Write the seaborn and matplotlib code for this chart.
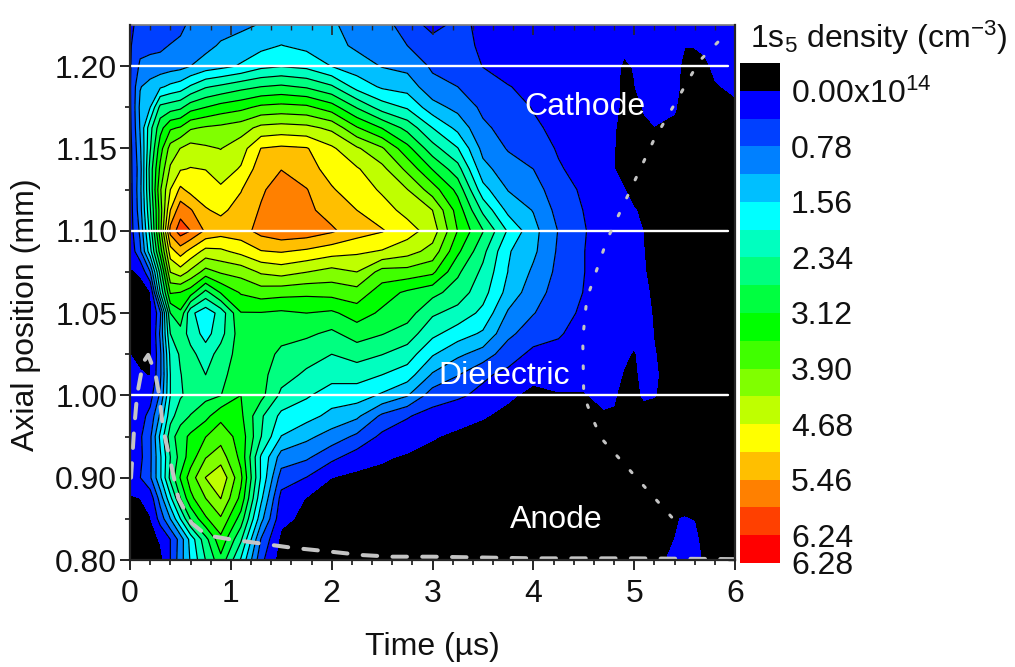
import numpy as np
import matplotlib
matplotlib.use("Agg")
import matplotlib.pyplot as plt
import seaborn as sns

# ---- data -----------------------------------------------------------------
time_us = [0, .1, .2, .3, .4, .5, .6, .75, .9, 1.1, 1.3, 1.5, 1.75, 2.0, 2.25, 2.5, 2.75, 3.0,
           3.25, 3.5, 3.75, 4.0, 4.25, 4.5, 4.7, 4.8, 4.9, 5.0, 5.1, 5.2, 5.4, 5.5, 5.6, 5.7, 5.8, 6.0]
axial_mm = [1.225, 1.2125, 1.20, 1.1875, 1.175, 1.1625, 1.15, 1.1375, 1.125, 1.1125, 1.10, 1.0875,
            1.075, 1.0625, 1.05, 1.0375, 1.025, 1.0125, 1.00, .975, .95, .925, .90, .875, .85, .825, .80]
# density (10^14 cm^-3), one list per time, top to bottom; negative = below the lowest level (black)
density_by_time = [
 [.35,.35,.35,.35,.33, .3,.25,.25,.22,.2, .2,.1,-.03,-.15,-.2, -.15,.0,.1,.2,.2, .25,.15,.15,-.03,-.15, -.2,-.2],
 [.45,.65,.85,1.15,1.25, 1.2,1.1,1.0,1.05,1.0, .85,.7,.03,-.1,-.15, -.15,-.08,.03,.15,.25, .33,.3,.38,.0,-.15, -.2,-.2],
 [.5,.65,.95,1.3,1.56, 2.2,2.3,2.5,2.45,2.3, 2.1,1.8,.78,-.05,-.15, -.15,-.12,-.02,.25,.5, .7,.7,.72,.15,-.03, -.2,-.2],
 [.5,.7,.95,1.5,2.45, 2.98,3.35,3.6,3.85,3.7, 3.75,3.3,2.5,1.95,.7, .85,.7,.7,.85,1.25, 1.65,1.5,1.5,.95,.55, .05,-.15],
 [.55,.8,1.0,1.65,2.55, 3.45,4.05,4.35,4.68,5.07, 5.6,4.9,4.3,3.55,2.73, 2.34,2.05,1.95,1.95,2.2, 2.55,2.34,2.45,1.85,1.17, .39,.39],
 [.7,.85,1.05,1.75,2.65, 3.55,4.3,4.65,5.15,5.7, 6.05,5.25,4.5,3.5,3.05, 2.55,2.4,2.32,2.3,2.55, 2.95,2.9,3.15,2.73,1.95, .95,1.0],
 [.85,.92,1.17,2.0,2.95, 3.85,4.45,4.7,4.95,5.5, 5.85,4.95,4.2,3.3,2.05, 2.2,2.45,2.55,2.45,2.75, 3.2,3.3,3.7,3.4,2.75, 1.7,1.6],
 [.92,1.05,1.35,2.3,3.12, 3.95,4.35,4.67,4.9,5.1, 5.4,4.55,3.75,2.6,1.7, 1.8,2.15,2.34,2.62,3.0, 3.5,3.88,4.3,3.9,3.45, 2.6,2.35],
 [1.0,1.22,1.45,2.42,3.28, 4.0,4.28,4.48,4.75,5.0, 5.25,4.6,3.95,3.15,2.1, 2.2,2.5,2.6,2.72,3.4, 3.75,4.1,4.6,4.3,3.85, 3.4,3.0],
 [1.08,1.35,1.6,2.6,3.4, 4.12,4.5,4.72,5.05,5.2, 5.3,4.8,4.05,3.55,3.1, 2.95,2.9,3.0,3.12,3.2, 3.35,3.4,3.6,3.4,2.95, 2.4,1.9],
 [1.2,1.45,1.85,2.73,3.6, 4.4,5.08,5.3,5.4,5.5, 5.6,5.05,4.35,3.7,3.1, 2.95,2.9,2.85,2.85,2.4, 2.35,1.9,1.9,1.65,1.3, .75,.5],
 [1.3,1.57,1.93,2.8,3.65, 4.45,5.15,5.45,5.65,5.78, 5.75,5.1,4.45,3.65,3.05, 2.85,2.65,2.5,2.25,1.85, 1.55,1.0,.6,.25,.1, -.1,-.2],
 [1.2,1.45,1.85,2.68,3.6, 4.4,5.1,5.2,5.48,5.55, 5.7,5.0,4.3,3.6,3.12, 2.8,2.5,2.27,2.0,1.7, 1.27,.85,.38,-.02,-.1, -.2,-.2],
 [1.25,1.3,1.55,2.4,3.3, 4.2,4.75,4.95,5.1,5.3, 5.52,4.85,4.15,3.65,3.05, 2.65,2.34,2.1,1.75,1.45, 1.0,.5,.0,-.12,-.15, -.2,-.2],
 [.95,1.1,1.35,1.8,2.7, 3.55,4.35,4.72,4.9,5.07, 5.25,4.75,4.29,3.75,3.3, 2.9,2.5,2.1,1.75,1.25, .7,.2,-.1,-.15,-.2, -.2,-.2],
 [.85,.9,1.15,1.5,2.15, 3.1,3.95,4.4,4.62,4.85, 5.1,4.65,3.75,3.3,3.05, 2.75,2.35,1.95,1.5,.7, .3,.05,-.12,-.15,-.2, -.2,-.2],
 [.7,.78,1.05,1.4,1.9, 2.6,3.25,3.8,4.3,4.55, 4.85,4.45,3.75,3.05,2.9, 2.55,2.15,1.75,1.2,.42, .2,-.05,-.15,-.2,-.2, -.2,-.2],
 [.2,.65,.72,.9,1.33, 1.95,2.5,3.1,3.7,4.29, 4.5,4.15,3.6,2.85,2.4, 2.05,1.6,1.12,.58,.25, .03,-.12,-.2,-.2,-.2, -.2,-.2],
 [.55,.58,.63,.78,1.05, 1.45,1.97,2.5,3.0,3.35, 3.5,3.2,2.8,2.55,2.2, 1.75,1.25,.8,.45,.15, -.08,-.15,-.2,-.2,-.2, -.2,-.2],
 [.25,.3,.38,.55,.7, .85,1.05,1.3,1.7,2.25, 2.75,2.45,2.25,2.1,1.85, 1.5,1.0,.45,.3,.03, -.15,-.2,-.2,-.2,-.2, -.2,-.2],
 [.22,.25,.3,.4,.55, .65,.75,.95,1.15,1.45, 1.9,1.6,1.55,1.42,1.12, .88,.55,.3,.06,-.1, -.2,-.2,-.2,-.2,-.2, -.2,-.2],
 [.25,.25,.3,.33,.37, .45,.6,.78,.95,1.15, 1.3,1.25,1.1,.95,.8, .55,.3,.1,-.1,-.15, -.2,-.2,-.2,-.2,-.2, -.2,-.2],
 [.2,.2,.22,.25,.27, .3,.35,.43,.55,.65, .76,.72,.68,.62,.52, .42,.3,.1,-.02,-.1, -.2,-.2,-.2,-.2,-.2, -.2,-.2],
 [.2,.2,.2,.2,.2, .2,.2,.25,.33,.38, .42,.4,.4,.38,.33, .27,.22,.12,-.03,-.12, -.2,-.2,-.2,-.2,-.2, -.2,-.2],
 [.2,.2,.2,.2,.2, .2,.2,.2,.2,.2, .2,.2,.2,.2,.2, .2,.2,.2,.1,-.05, -.2,-.2,-.2,-.2,-.2, -.2,-.2],
 [.2,.2,.2,.2,.2, .05,.02,.02,.15,.2, .2,.2,.2,.2,.2, .2,.2,.2,.05,-.05, -.2,-.2,-.2,-.2,-.2, -.2,-.2],
 [.2,.15,-.1,-.2,-.2, -.2,-.2,-.2,.02,.2, .2,.2,.2,.2,.2, .2,.1,-.05,-.15,-.2, -.2,-.2,-.2,-.2,-.2, -.2,-.2],
 [.2,.12,.03,-.02,-.2, -.2,-.2,-.2,-.2,.03, .15,.2,.2,.2,.2, .15,-.05,-.1,-.1,-.2, -.2,-.2,-.2,-.2,-.2, -.2,-.2],
 [.2,.2,.2,.2,.05, -.1,-.2,-.2,-.2,-.1, -.02,.0,.03,.1,.15, .2,.2,.15,.05,-.15, -.2,-.2,-.2,-.2,-.2, -.2,-.2],
 [.2,.2,.2,.2,.2, -.02,-.2,-.2,-.2,-.2, -.2,-.2,-.15,-.1,-.05, -.02,.02,.05,.02,-.2, -.2,-.2,-.2,-.2,-.2, -.2,-.2],
 [.2,.2,.2,.2,.05, -.1,-.2,-.2,-.2,-.2, -.2,-.2,-.2,-.2,-.2, -.2,-.2,-.2,-.2,-.2, -.2,-.2,-.2,-.2,-.02, .0,.15],
 [.2,.02,-.15,-.2,-.2, -.2,-.2,-.2,-.2,-.2, -.2,-.2,-.2,-.2,-.2, -.2,-.2,-.2,-.2,-.2, -.2,-.2,-.2,-.2,.02, .2,.2],
 [.2,.02,-.15,-.2,-.2, -.2,-.2,-.2,-.2,-.2, -.2,-.2,-.2,-.2,-.2, -.2,-.2,-.2,-.2,-.2, -.2,-.2,-.2,-.2,-.02, .12,.2],
 [.2,.1,-.1,-.2,-.2, -.2,-.2,-.2,-.2,-.2, -.2,-.2,-.2,-.2,-.2, -.2,-.2,-.2,-.2,-.2, -.2,-.2,-.2,-.2,-.2, -.2,-.1],
 [.2,.2,.1,-.05,-.2, -.2,-.2,-.2,-.2,-.2, -.2,-.2,-.2,-.2,-.2, -.2,-.2,-.2,-.2,-.2, -.2,-.2,-.2,-.2,-.2, -.2,-.2],
 [.2,.2,.2,.1,-.1, -.2,-.2,-.2,-.2,-.2, -.2,-.2,-.2,-.2,-.2, -.2,-.2,-.2,-.2,-.2, -.2,-.2,-.2,-.2,-.2, -.2,-.2],
]
anode_time = [.01, .04, .07, .13, .18, .25, .29, .33, .40, .48, .61, .76, 1.0, 1.3, 1.6, 2.0, 2.3, 2.6, 3.0, 4.0, 5.0, 6.0]
anode_pos = [.90, .958, 1.0, 1.02, 1.0246, 1.0137, 1.0, .958, .92, .875, .845, .83, .825, .82, .815, .81, .806, .804, .804, .802, .802, .801]
cathode_time = [5.83, 5.645, 5.19, 4.73, 4.53, 4.49, 4.50, 4.59, 4.68, 5.38]
cathode_pos = [1.2146, 1.203, 1.1545, 1.0944, 1.0586, 1.0343, 1.0, .971, .947, .851]
electrode_marks = [1.20, 1.10, 1.00]
electrode_names = ["Cathode", "Dielectric", "Anode"]
levels = [-1, 0, .39, .78, 1.17, 1.56, 1.95, 2.34, 2.73, 3.12, 3.51, 3.90, 4.29, 4.68, 5.07, 5.46, 5.85, 6.24, 6.28]
band_colors = ["#000000", "#0000ff", "#0040ff", "#0080ff", "#00bfff", "#00ffff", "#00ffbf", "#00ff80", "#00ff40",
               "#00ff00", "#40ff00", "#80ff00", "#bfff00", "#ffff00", "#ffbf00", "#ff8000", "#ff4000", "#ff0000"]
y_ticks = [.80, .90, 1.00, 1.05, 1.10, 1.15, 1.20]
y_minor_ticks = [.85, .95, 1.025, 1.075, 1.125, 1.175]
cbar_ticks = [0, .78, 1.56, 2.34, 3.12, 3.90, 4.68, 5.46, 6.24, 6.28]
cbar_labels = ["0.00x10$^{14}$", "0.78", "1.56", "2.34", "3.12", "3.90", "4.68", "5.46", "6.24", "6.28"]

# ---- style ---------------------------------------------------------------------
sns.set_theme(style="ticks")
FONT = "Liberation Sans"
plt.rcParams["font.family"] = [FONT, "DejaVu Sans"]
plt.rcParams["mathtext.fontset"] = "custom"
plt.rcParams["mathtext.rm"] = FONT
plt.rcParams["mathtext.it"] = FONT
plt.rcParams["mathtext.default"] = "regular"
TXT = 23
INK = "#111111"

W, H = 1015, 667
fig = plt.figure(figsize=(W / 100, H / 100), dpi=100, facecolor="white")
ax = fig.add_axes([130 / W, 1 - 560 / H, 605 / W, 535 / H])
cax = fig.add_axes([740 / W, 1 - 563 / H, 40 / W, 500 / H])

xp, fp = [.80, 1.00, 1.225], [0, 2, 6.5]
ax.set_yscale("function", functions=(lambda v: np.interp(v, xp, fp), lambda u: np.interp(u, fp, xp)))

grid = np.array(density_by_time).T
cf = ax.contourf(time_us, axial_mm, grid, levels=levels, colors=band_colors)
ax.contour(time_us, axial_mm, grid, levels=levels[2:-1], colors="black", linewidths=0.85)

for mark in electrode_marks:
    sns.lineplot(x=[0, 5.93], y=[mark, mark], color="white", lw=1.7, ax=ax, zorder=4)
sns.lineplot(x=anode_time, y=anode_pos, sort=False, estimator=None, color="#c4c4c4", lw=2.9,
             linestyle=(0, (3.6, 3.8)), dash_capstyle="round", ax=ax, zorder=5)
sns.lineplot(x=cathode_time, y=cathode_pos, sort=False, estimator=None, color="#c4c4c4", lw=2.2,
             linestyle=(0, (.9, 5.6)), dash_capstyle="round", ax=ax, zorder=5)

name_xy = [(4.51, 1.175), (3.71, 1.0115), (4.23, .848)]
for name, (tx, ty) in zip(electrode_names, name_xy):
    ax.text(tx, ty, name, color="white", fontsize=23, ha="center", va="center", zorder=6)

ax.set_xlim(0, 6)
ax.set_ylim(.80, 1.225)
ax.set_xticks(range(7))
ax.set_xticks(np.arange(0, 6.01, .2), minor=True)
ax.set_yticks(y_ticks)
ax.set_yticks(y_minor_ticks, minor=True)
ax.set_yticklabels([f"{v:.2f}" for v in y_ticks])
ax.tick_params(axis="both", which="major", labelsize=TXT, length=7.2, width=1.2, color="black", labelcolor=INK, pad=2)
ax.tick_params(axis="x", which="major", pad=6.5)
ax.tick_params(axis="both", which="minor", length=3.6, width=1.1, color="black")
top = ax.secondary_xaxis("top")
top.set_xticks(range(7))
top.set_xticks(np.arange(0, 6.01, .2), minor=True)
top.tick_params(axis="x", which="major", direction="in", length=7.2, width=1.2, labeltop=False)
top.tick_params(axis="x", which="minor", direction="in", length=3.6, width=1.0)
top.spines["top"].set_color("#808080")
top.set_zorder(7)
right = ax.secondary_yaxis("right")
right.set_yticks(y_ticks)
right.tick_params(axis="y", which="major", direction="in", length=5, width=1.0, labelright=False)
right.set_yticks([], minor=True)
for side in ("left", "bottom", "right"):
    ax.spines[side].set_linewidth(1.6)
    ax.spines[side].set_visible(True)
    ax.spines[side].set_zorder(8)
ax.spines["top"].set_visible(False)
ax.set_xlabel("Time (\u00b5s)", fontsize=TXT, color=INK, va="center")
ax.set_ylabel("Axial position (mm)", fontsize=TXT, color=INK, va="center")
ax.xaxis.set_label_coords((432 - 130) / 605, -(647 - 560) / 535)
ax.yaxis.set_label_coords((26 - 130) / 605, (560 - 315) / 535)

cbar = fig.colorbar(cf, cax=cax, spacing="uniform", drawedges=False)
cbar.outline.set_visible(False)
cbar.set_ticks(cbar_ticks)
cbar.set_ticklabels(cbar_labels)
cbar.ax.invert_yaxis()
cbar.ax.tick_params(which="both", length=0, labelsize=TXT, labelcolor=INK, pad=8)
cbar.ax.minorticks_off()
fig.text(750 / W, 1 - 48 / H, "1s$_5$ density (cm$^{-3}$)", fontsize=TXT, color=INK, ha="left", va="baseline")

fig.savefig("out.png", dpi=100, facecolor="white")
